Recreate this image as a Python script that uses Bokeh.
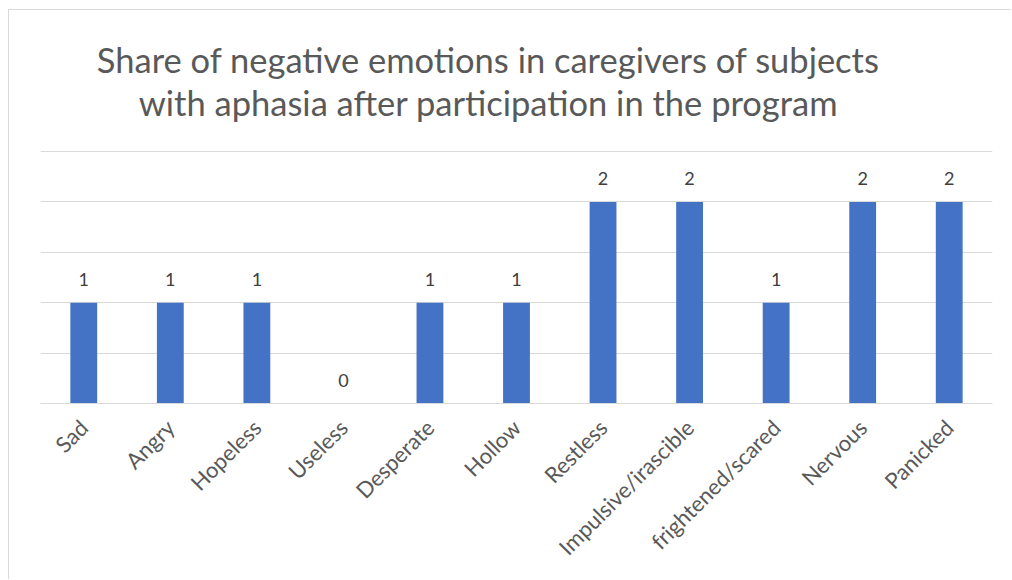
import math
from bokeh.plotting import figure
from bokeh.models import ColumnDataSource, FactorRange, Range1d, FixedTicker, Title
from bokeh.core.properties import value
from bokeh.embed import file_html
from bokeh.resources import INLINE

categories = ["Sad", "Angry", "Hopeless", "Useless", "Desperate", "Hollow",
              "Restless", "Impulsive/irascible", "frightened/scared", "Nervous", "Panicked"]
counts = [1, 1, 1, 0, 1, 1, 2, 2, 1, 2, 2]
grid_ticks = [0, 0.5, 1, 1.5, 2, 2.5]
title_lines = ["Share of negative emotions in caregivers of subjects",
               "with aphasia after participation in the program"]

FONT = "Lato"
BAR = "#4472C4"
GRID = "#D9D9D9"

src = ColumnDataSource(dict(cat=categories, val=counts, lab=[str(v) for v in counts]))

p = figure(x_range=FactorRange(*categories, range_padding=0),
           y_range=Range1d(0, 2.51),
           width=1003, height=570,
           output_backend="svg", toolbar_location=None,
           min_border_left=31, min_border_right=20,
           min_border_top=0, min_border_bottom=177)

p.styles = {"margin-left": "8px", "margin-top": "9px",
            "border-left": "1px solid #D9D9D9", "border-top": "1px solid #D9D9D9"}

p.vbar(x="cat", top="val", width=0.31, source=src, fill_color=BAR, line_color=None)
p.text(x="cat", y="val", text="lab", source=src, text_align="center",
       text_baseline="bottom", y_offset=-17, text_font=value(FONT),
       text_font_size="18px", text_color="#404040")

t2 = Title(text=title_lines[1], align="center", text_font=FONT, text_font_size="34.5px",
           text_font_style="normal", text_color="#595959", standoff=0,
           padding={"left": 0, "right": 56, "top": 0, "bottom": 28})
t1 = Title(text=title_lines[0], align="center", text_font=FONT, text_font_size="34.5px",
           text_font_style="normal", text_color="#595959", standoff=0,
           padding={"left": 0, "right": 56, "top": 26, "bottom": 0})
p.add_layout(t2, "above")
p.add_layout(t1, "above")

p.yaxis.visible = False
p.ygrid.ticker = FixedTicker(ticks=grid_ticks)
p.ygrid.grid_line_color = GRID
p.ygrid.grid_line_width = 1
p.xgrid.grid_line_color = None
p.outline_line_color = None

p.xaxis.axis_line_color = GRID
p.xaxis.axis_line_width = 1
p.xaxis.major_tick_line_color = None
p.xaxis.minor_tick_line_color = None
p.xaxis.major_label_orientation = math.pi / 4
p.xaxis.major_label_standoff = 14
p.xaxis.major_label_text_font = FONT
p.xaxis.major_label_text_font_size = "22px"
p.xaxis.major_label_text_color = "#595959"

open("out.html", "w").write(file_html(p, INLINE))
